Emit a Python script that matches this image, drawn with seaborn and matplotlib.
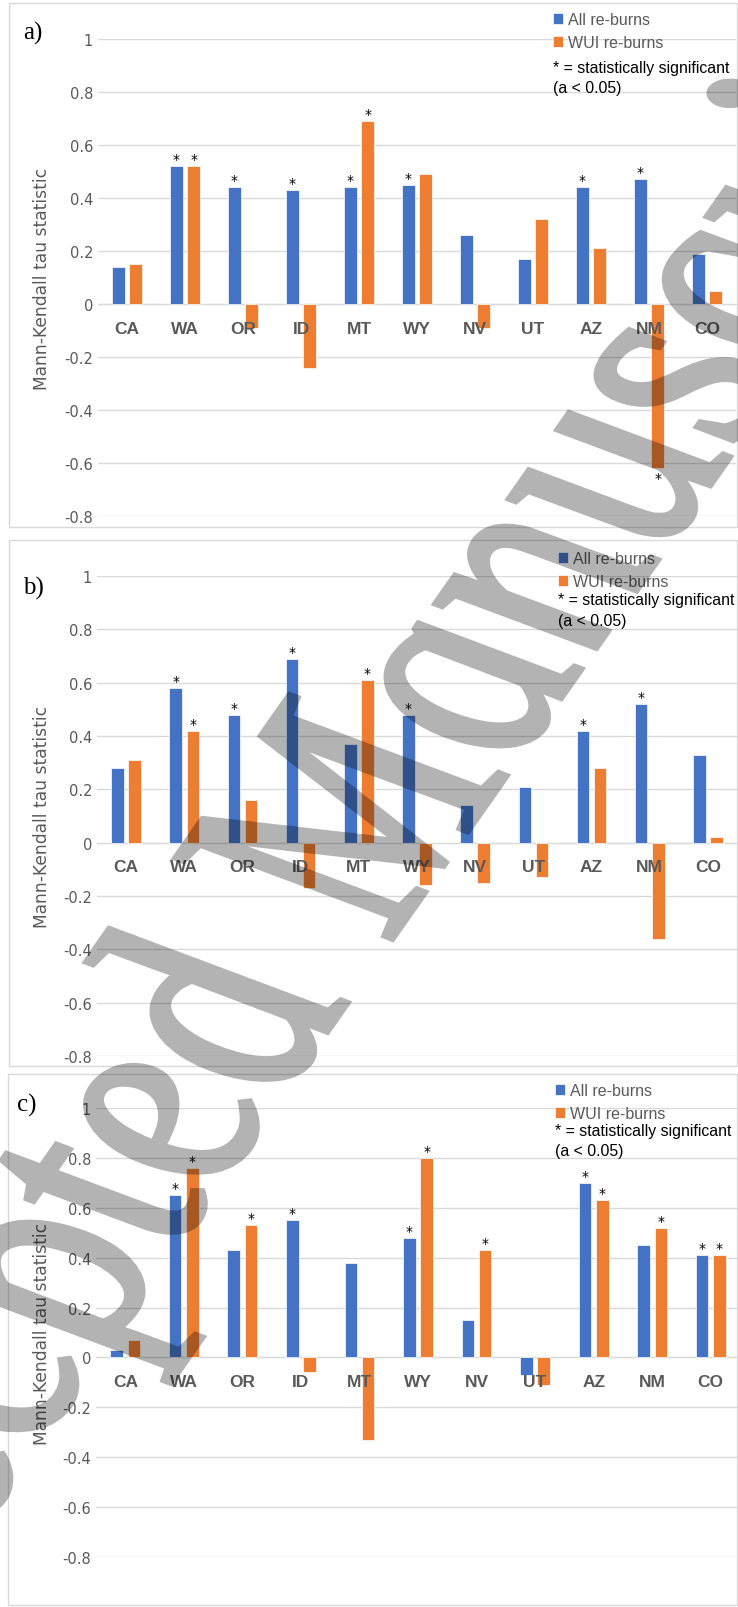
import matplotlib
matplotlib.use("Agg")
import matplotlib.pyplot as plt
from matplotlib.patches import Rectangle, PathPatch
from matplotlib.textpath import TextPath
from matplotlib.font_manager import FontProperties
from matplotlib.transforms import Affine2D
import seaborn as sns
import pandas as pd

# ---- data ----
states = ["CA", "WA", "OR", "ID", "MT", "WY", "NV", "UT", "AZ", "NM", "CO"]
series_names = ["All re-burns", "WUI re-burns"]

all_a = [0.14, 0.52, 0.44, 0.43, 0.44, 0.45, 0.26, 0.17, 0.44, 0.47, 0.19]
wui_a = [0.15, 0.52, -0.09, -0.24, 0.69, 0.49, -0.09, 0.32, 0.21, -0.62, 0.05]
sig_all_a = [0, 1, 1, 1, 1, 1, 0, 0, 1, 1, 0]
sig_wui_a = [0, 1, 0, 0, 1, 0, 0, 0, 0, 1, 0]

all_b = [0.28, 0.58, 0.48, 0.69, 0.37, 0.48, 0.14, 0.21, 0.42, 0.52, 0.33]
wui_b = [0.31, 0.42, 0.16, -0.17, 0.61, -0.16, -0.15, -0.13, 0.28, -0.36, 0.02]
sig_all_b = [0, 1, 1, 1, 0, 1, 0, 0, 1, 1, 0]
sig_wui_b = [0, 1, 0, 0, 1, 0, 0, 0, 0, 0, 0]

all_c = [0.03, 0.65, 0.43, 0.55, 0.38, 0.48, 0.15, -0.07, 0.70, 0.45, 0.41]
wui_c = [0.07, 0.76, 0.53, -0.06, -0.33, 0.80, 0.43, -0.11, 0.63, 0.52, 0.41]
sig_all_c = [0, 1, 0, 1, 0, 1, 0, 0, 1, 0, 1]
sig_wui_c = [0, 1, 1, 0, 0, 1, 1, 0, 1, 1, 1]

panel_labels = ["a)", "b)", "c)"]
yticks = [-0.8, -0.6, -0.4, -0.2, 0, 0.2, 0.4, 0.6, 0.8, 1]
ytick_labels = ["-0.8", "-0.6", "-0.4", "-0.2", "0", "0.2", "0.4", "0.6", "0.8", "1"]
ylabel = "Mann-Kendall tau statistic"
note_lines = ["* = statistically significant", "(a < 0.05)"]
watermark = "Accepted Manuscript"

# ---- layout (pixels in a 738 x 1608 canvas) ----
W, H = 738, 1608
BLUE, ORANGE = "#4472C4", "#ED7D31"
GRAY_TXT, GRID = "#595959", "#D9D9D9"
SANS = ["Liberation Sans", "DejaVu Sans"]
SERIF = ["Liberation Serif", "DejaVu Serif"]

# axes: left, top(=1), right, bottom(=-0.8)
axes_px = [(98, 40, 736, 517), (97, 577, 737, 1057), (96, 1109, 740, 1558)]
boxes_px = [(9, 4, 737, 528), (9, 541, 737, 1067), (8, 1075, 737, 1606)]
label_px = [(33, 33), (33, 588), (27, 1105)]
legend_px = [(553, 13), (558, 552), (555, 1084)]
note_px = [(553, 68, 89), (558, 601, 622), (555, 1132, 1152)]


def fx(px):
    return px / W


def fy(py):
    return 1 - py / H


def fade(img, dpi):
    # make the whole watermark uniformly translucent
    out = img.copy()
    out[..., 3] *= 0.3
    return out, 0, 0


panels = [
    (all_a, wui_a, sig_all_a, sig_wui_a),
    (all_b, wui_b, sig_all_b, sig_wui_b),
    (all_c, wui_c, sig_all_c, sig_wui_c),
]

fig = plt.figure(figsize=(W / 100, H / 100), dpi=100)

for i, (all_v, wui_v, sig_all, sig_wui) in enumerate(panels):
    l, t, r, b = axes_px[i]
    ax = fig.add_axes([fx(l), fy(b), (r - l) / W, (b - t) / H])

    df = pd.DataFrame({
        "state": states * 2,
        "series": [series_names[0]] * len(states) + [series_names[1]] * len(states),
        "tau": all_v + wui_v,
    })
    sns.barplot(data=df, x="state", y="tau", hue="series",
                palette=[BLUE, ORANGE], saturation=1, width=0.59, gap=0.27,
                edgecolor="white", linewidth=0.5, ax=ax)

    ax.set_xlim(-0.5, 10.5)
    ax.set_ylim(-0.8, 1)
    ax.set_yticks(yticks, ytick_labels)
    ax.grid(axis="y", color=GRID, linewidth=1)
    ax.set_axisbelow(True)
    ax.xaxis.set_zorder(3)
    for s in ["top", "left", "right"]:
        ax.spines[s].set_visible(False)
    ax.spines["bottom"].set_position(("data", 0))
    ax.spines["bottom"].set_color(GRID)
    ax.spines["bottom"].set_zorder(0.5)
    ax.tick_params(axis="both", length=0)
    ax.tick_params(axis="x", pad=12)
    for lab in ax.get_xticklabels():
        lab.set_fontfamily(SANS)
        lab.set_fontweight("bold")
        lab.set_fontsize(12.5)
        lab.set_color(GRAY_TXT)
    for lab in ax.get_yticklabels():
        lab.set_fontsize(10.5)
        lab.set_color(GRAY_TXT)
    ax.set_xlabel("")
    ax.set_ylabel(ylabel, fontsize=12.3, color=GRAY_TXT)
    ax.yaxis.set_label_coords((51 - l) / (r - l), 0.5)

    # significance markers
    for cont, sig in zip(ax.containers, [sig_all, sig_wui]):
        for bar, s in zip(cont, sig):
            if not s:
                continue
            x = bar.get_x() + bar.get_width() / 2
            y = bar.get_y() + bar.get_height()
            if y >= 0:
                ax.annotate("*", (x, y), xytext=(0, 0), textcoords="offset points",
                            ha="center", va="bottom", fontsize=10)
            else:
                ax.annotate("*", (x, y), xytext=(0, -2), textcoords="offset points",
                            ha="center", va="top", fontsize=10)

    sns.move_legend(ax, "upper left",
                    bbox_to_anchor=(fx(legend_px[i][0]), fy(legend_px[i][1])),
                    bbox_transform=fig.transFigure, title=None, frameon=False,
                    handlelength=0.65, handleheight=0.65, handletextpad=0.3,
                    labelspacing=0.5, borderpad=0, borderaxespad=0,
                    prop={"family": SANS, "size": 11.5}, labelcolor=GRAY_TXT)

    nx, n1, n2 = note_px[i]
    fig.text(fx(nx), fy(n1), note_lines[0], ha="left", va="center",
             fontsize=11.4, family=SANS, color="black")
    fig.text(fx(nx), fy(n2), note_lines[1], ha="left", va="center",
             fontsize=11.4, family=SANS, color="black")

    lx, ly = label_px[i]
    fig.text(fx(lx), fy(ly), panel_labels[i], ha="center", va="center",
             fontsize=18, family=SERIF)

    x0, y0, x1, y1 = boxes_px[i]
    fig.add_artist(Rectangle((fx(x0), fy(y1)), (x1 - x0) / W, (y1 - y0) / H,
                             transform=fig.transFigure, fill=False,
                             edgecolor=GRID, linewidth=1))

# watermark: italic serif text, rotated then stretched sideways (as in the scan)
wm_path = TextPath((0, 0), watermark, size=228,
                   prop=FontProperties(family="Liberation Serif", style="italic"))
ext = wm_path.get_extents()
wm_tr = (Affine2D()
         .translate(-(ext.x0 + ext.x1) / 2, -(ext.y0 + ext.y1) / 2)
         .rotate_deg(67.6)
         .scale(1.7, 1)
         .translate(357, H - 847))
wm = PathPatch(wm_path, transform=wm_tr, facecolor="black",
               edgecolor="black", linewidth=4, zorder=10)
wm.set_agg_filter(fade)
fig.add_artist(wm)

fig.savefig("out.png", dpi=100)
